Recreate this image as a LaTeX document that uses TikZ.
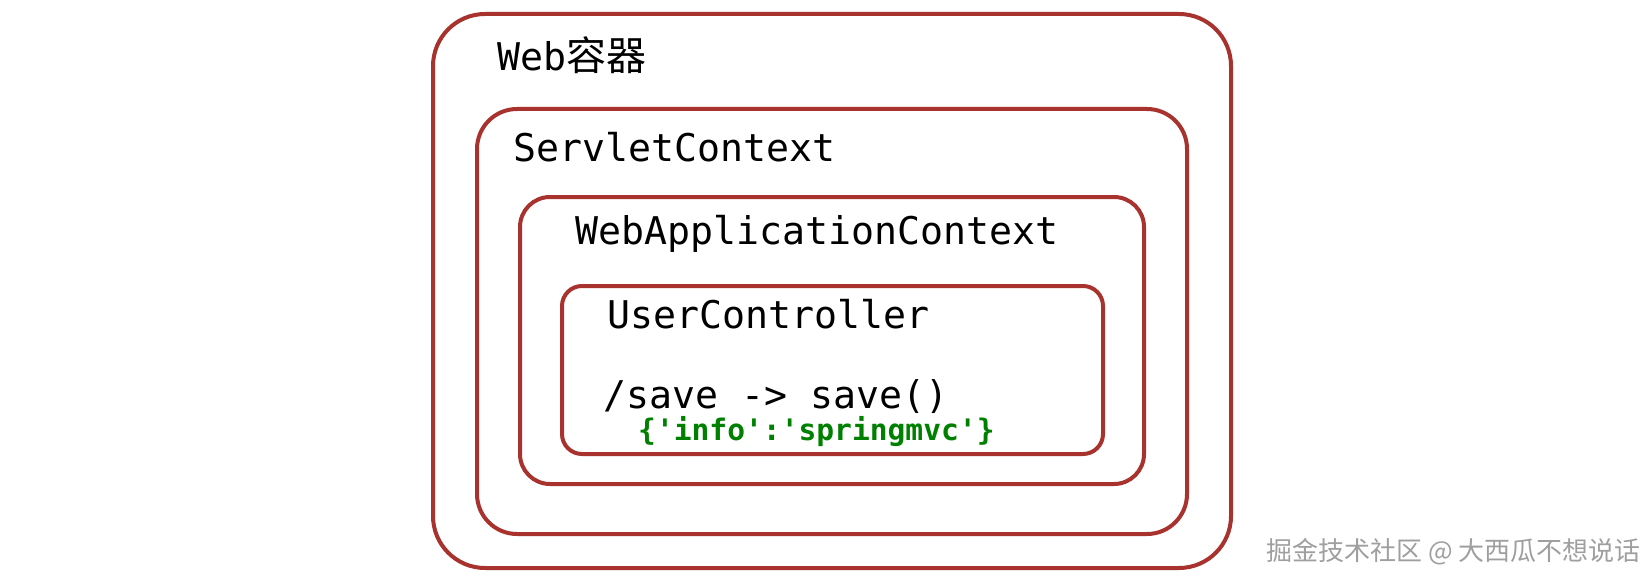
\documentclass[tikz,border=0pt]{standalone}
\usepackage{fontspec}
\setmonofont{DejaVu Sans Mono}
\newfontfamily\cjk{Noto Sans CJK SC}
\usepackage{xcolor}
\definecolor{boxred}{RGB}{168,50,45}
\definecolor{valgreen}{RGB}{0,128,0}

\begin{document}
\begin{tikzpicture}[x=1pt,y=-1pt,
  ctxbox/.style={draw=boxred,line width=4pt,rectangle,inner sep=0pt},
  ctxlabel/.style={anchor=base west,inner sep=0pt,font=\fontsize{38.2}{40}\selectfont\ttfamily}]
  \useasboundingbox (0,0) rectangle (1644,583);

  % nested contexts, outermost first
  \node[ctxbox,rounded corners=52pt,minimum width=798pt,minimum height=554pt] (web) at (832,291) {};
  \node[ctxbox,rounded corners=40pt,minimum width=710pt,minimum height=425pt] (servlet) at (832,321.5) {};
  \node[ctxbox,rounded corners=30pt,minimum width=624pt,minimum height=287pt] (app) at (832,340.5) {};
  \node[ctxbox,rounded corners=20pt,minimum width=541pt,minimum height=168pt] (ctrl) at (832.5,370) {};

  \node[ctxlabel] (weblabel) at (497,71) {Web{\cjk\fontsize{40}{42}\selectfont 容器}};
  \node[ctxlabel] (servletlabel) at (513,161) {ServletContext};
  \node[ctxlabel] (applabel) at (575,244) {WebApplicationContext};
  \node[ctxlabel] (ctrllabel) at (607,328) {UserController};
  \node[ctxlabel] (mapping) at (603,408) {/save -> save()};
  \node[ctxlabel,font=\fontsize{29.6}{31}\selectfont\ttfamily\bfseries,text=valgreen] (info) at (638,440) {\{'info':'springmvc'\}};

  \node[anchor=west,inner sep=0pt,text=gray!75,font=\cjk\fontsize{26}{28}\selectfont] (mark) at (1266,552) {掘金技术社区 @ 大西瓜不想说话};
\end{tikzpicture}
\end{document}
